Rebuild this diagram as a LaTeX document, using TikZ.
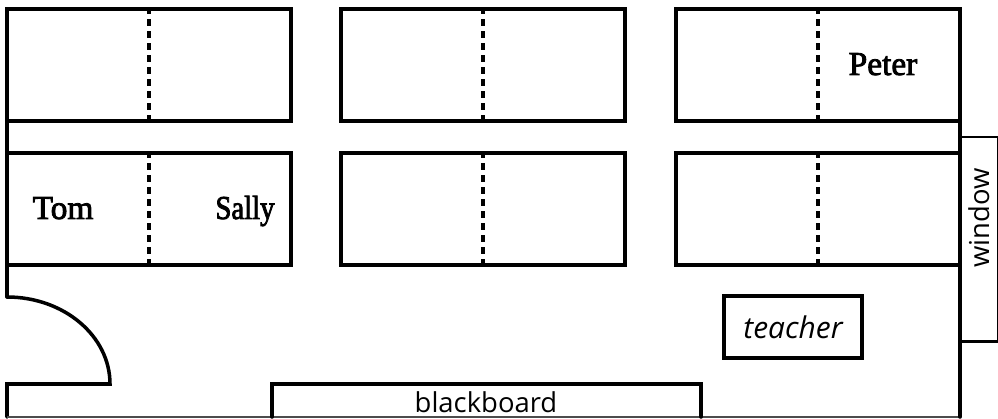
\documentclass[tikz,border=0pt]{standalone}
\usepackage{fontspec}
\setmainfont{Liberation Serif}
\setsansfont{Open Sans}
\newfontfamily\pupilfont[FakeBold=2.5]{Liberation Serif}
\usepackage{tikz}
\usetikzlibrary{positioning}

\tikzset{
  desk/.style={draw, line width=1pt, minimum width=2.84cm, minimum height=1.12cm, inner sep=0pt},
  divider/.style={line width=1pt, dash pattern=on 0.065cm off 0.055cm},
  wall/.style={line width=1pt, line cap=round},
  pupil/.style={font=\pupilfont\fontsize{9.5}{10}\selectfont, inner sep=0pt, anchor=base},
  roomtext/.style={font=\sffamily\fontsize{7.8}{10}\selectfont, inner sep=0pt},
}

\begin{document}
\begin{tikzpicture}[x=0.01cm, y=0.01cm]
\useasboundingbox (0,0) rectangle (998,419);
%
\foreach \name/\px/\py in {a/149/354, b/483/354, c/818/354, d/149/210, e/483/210, f/818/210} {
  \node[desk] (\name) at (\px,\py) {};
  \draw[divider] (\name.north) -- (\name.south);
}

%
\draw[wall] (7,410) -- (7,122);
\draw[wall] (7,122) arc[start angle=90, end angle=0, x radius=103, y radius=87] -- (7,35) -- (7,2);
\draw[line width=0.4pt, color=black!70] (7,2) -- (960,2);
\draw[wall] (960,410) -- (960,2);

%
\node[draw, line width=0.7pt, minimum width=0.37cm, minimum height=2.04cm, inner sep=0pt, anchor=north west] (window) at (960,283) {};
\node[roomtext, rotate=90] (windowtext) at (979,201) {window};

%
\node[draw, line width=1pt, minimum width=1.38cm, minimum height=0.62cm, inner sep=0pt, roomtext, font=\sffamily\itshape\fontsize{8.5}{10}\selectfont] (teacher) at (793,92) {teacher};

%
\draw[wall] (272,2) -- (272,35) -- (701,35) -- (701,2);
\node[roomtext] (board) at (486,17) {blackboard};

%
\node[pupil] (peter) at (883,344) {Peter};
\node[pupil] (tom) at (63,200) {Tom};
\node[pupil, xscale=0.86] (sally) at (245,200) {Sally};

\end{tikzpicture}
\end{document}
